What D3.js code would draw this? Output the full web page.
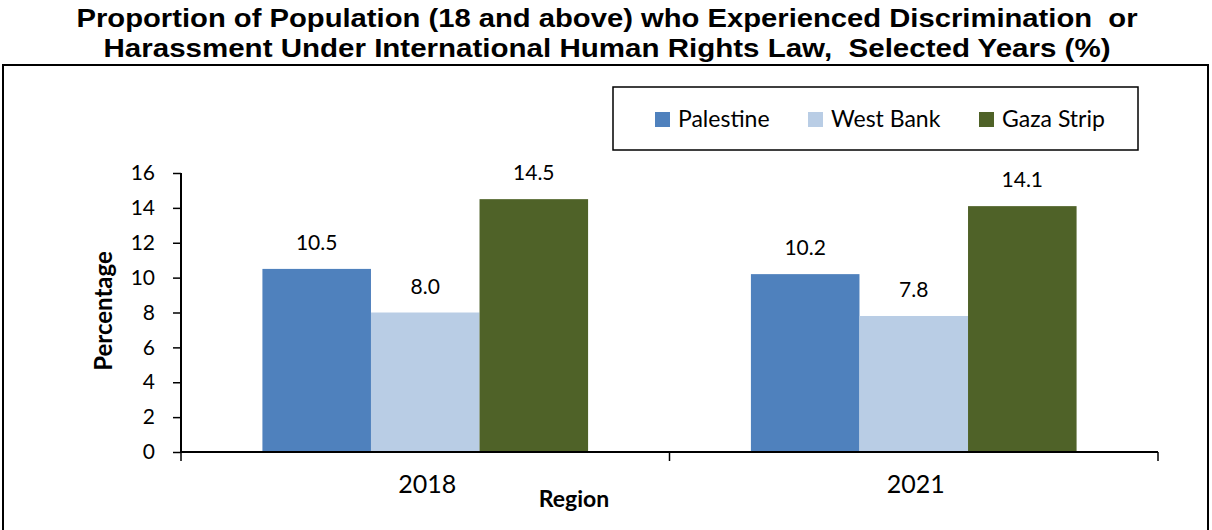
<!DOCTYPE html>
<html><head><meta charset="utf-8">
<script src="https://cdn.jsdelivr.net/npm/d3@7"></script>
<style>body{margin:0;background:#fff}svg{display:block}text{white-space:pre}</style>
</head><body>
<svg id="c" width="1212" height="530"></svg>
<script>
const categories = ["2018", "2021"];
const seriesNames = ["Palestine", "West Bank", "Gaza Strip"];
const palestine = [10.5, 10.2];
const westBank = [8.0, 7.8];
const gazaStrip = [14.5, 14.1];
const yTicks = [0, 2, 4, 6, 8, 10, 12, 14, 16];
const colors = ["#4F81BD", "#B9CDE5", "#4F6228"];
const titleLines = ["Proportion of Population (18 and above) who Experienced Discrimination  or",
                    "Harassment Under International Human Rights Law,  Selected Years (%)"];

const series = [palestine, westBank, gazaStrip];
const svg = d3.select("#c");
const lab = "Lato, 'Open Sans', sans-serif";

// title
const titleW = [1061, 1007];
svg.selectAll("text.title").data(titleLines).join("text")
  .attr("x", 607).attr("y", (d, i) => 27 + i * 30)
  .attr("text-anchor", "middle")
  .attr("font-family", "'Liberation Sans', Arial, sans-serif")
  .attr("font-weight", "bold").attr("font-size", 25)
  .attr("textLength", (d, i) => titleW[i]).attr("lengthAdjust", "spacingAndGlyphs")
  .attr("fill", "#000").text(d => d);

// outer frame
svg.append("rect").attr("x", 3).attr("y", 65).attr("width", 1205).attr("height", 470)
  .attr("fill", "none").attr("stroke", "#000").attr("stroke-width", 2);

const x0 = d3.scaleBand().domain(categories).range([181, 1158]).paddingInner(0).paddingOuter(0);
const x1 = d3.scaleBand().domain(d3.range(seriesNames.length)).range([0, x0.bandwidth()]).paddingInner(0).paddingOuter(0.75);
const y = d3.scaleLinear().domain([0, 16]).range([452, 173]);

// bars
const g = svg.append("g");
categories.forEach((c, ci) => {
  series.forEach((s, si) => {
    g.append("rect")
      .attr("x", x0(c) + x1(si)).attr("width", x1.bandwidth())
      .attr("y", y(s[ci])).attr("height", y(0) - y(s[ci]))
      .attr("fill", colors[si]);
    g.append("text")
      .attr("x", x0(c) + x1(si) + x1.bandwidth() / 2)
      .attr("y", y(s[ci]) - 19)
      .attr("text-anchor", "middle")
      .attr("font-family", lab).attr("font-size", 21).attr("fill", "#000")
      .text(s[ci].toFixed(1));
  });
});

// y axis
const ya = svg.append("g").attr("transform", "translate(181,0)")
  .call(d3.axisLeft(y).tickValues(yTicks).tickSize(8).tickPadding(18).tickFormat(d3.format("d")));
ya.select(".domain").attr("stroke", "#000").attr("stroke-width", 2).attr("d", "M0,173V452");
ya.selectAll(".tick line").attr("stroke", "#000").attr("stroke-width", 1.5);
ya.selectAll(".tick text").attr("font-family", lab).attr("font-size", 21).attr("fill", "#000");

// x axis
const xa = svg.append("g").attr("transform", "translate(0,452)");
xa.append("line").attr("x1", 181).attr("x2", 1158).attr("stroke", "#000").attr("stroke-width", 2);
const bounds = [x0(categories[0])].concat(categories.map(c => x0(c) + x0.bandwidth()));
xa.selectAll("line.t").data(bounds).join("line").attr("class", "t")
  .attr("x1", d => d).attr("x2", d => d).attr("y1", 0).attr("y2", 9)
  .attr("stroke", "#000").attr("stroke-width", 1.5);
xa.selectAll("text.cat").data(categories).join("text").attr("class", "cat")
  .attr("x", d => x0(d) + x0.bandwidth() / 2 + 2).attr("y", 41)
  .attr("text-anchor", "middle").attr("font-family", lab).attr("font-size", 25).attr("fill", "#000")
  .text(d => d);

// axis titles
svg.append("text").attr("x", 574).attr("y", 507).attr("text-anchor", "middle")
  .attr("font-family", lab).attr("font-weight", "bold").attr("font-size", 23).attr("fill", "#000")
  .text("Region");
svg.append("text").attr("transform", "translate(112,311) rotate(-90)").attr("text-anchor", "middle")
  .attr("font-family", lab).attr("font-weight", "bold").attr("font-size", 24).attr("fill", "#000")
  .text("Percentage");

// legend
const lg = svg.append("g");
lg.append("rect").attr("x", 613).attr("y", 87).attr("width", 525).attr("height", 63)
  .attr("fill", "#fff").attr("stroke", "#000").attr("stroke-width", 1.5);
const legX = [655, 808, 979];
seriesNames.forEach((n, i) => {
  lg.append("rect").attr("x", legX[i]).attr("y", 112).attr("width", 15).attr("height", 15).attr("fill", colors[i]);
  lg.append("text").attr("x", legX[i] + 23).attr("y", 127)
    .attr("font-family", lab).attr("font-size", 23).attr("fill", "#000").text(n);
});
</script>
</body></html>
